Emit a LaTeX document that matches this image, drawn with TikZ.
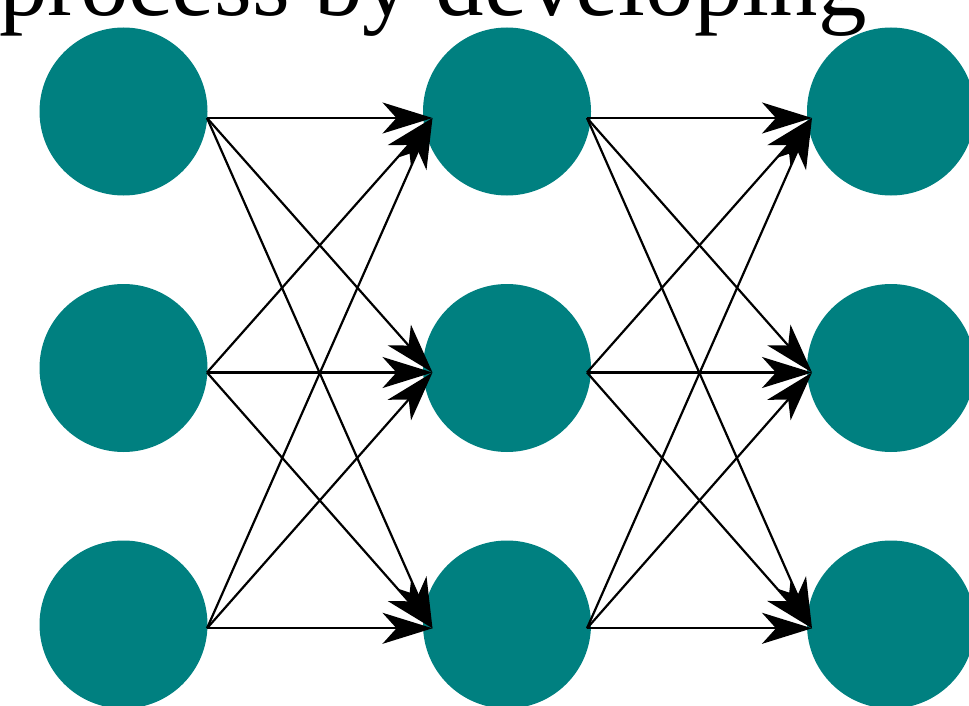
\documentclass[tikz,border=0pt]{standalone}
\usepackage{fontspec}
\setmainfont{Liberation Serif}
\usetikzlibrary{arrows.meta}
\begin{document}
\begin{tikzpicture}[x=1pt,y=-1pt,
  neuron/.style={circle,fill=teal,draw=none,minimum size=168pt,inner sep=0pt},
  conn/.style={line width=2.2pt,black,-{Stealth[length=50pt,width=31pt,inset=14pt]}}]
\useasboundingbox (0,0) rectangle (969,706);
% heading text (cropped at top)
\node[anchor=base west,inner sep=0pt,font=\fontsize{97}{97}\selectfont] (title) at (-1,15.5) {process by developing};
% neurons
\foreach \c/\x in {1/123.5,2/507,3/891}{
  \foreach \r/\y in {1/111.5,2/368,3/624.5}{
    \node[neuron] (n\c\r) at (\x,\y) {};
  }
}
% ports
\foreach \r/\y in {1/118,2/372.5,3/628.3}{
  \coordinate (out1\r) at (207,\y);
  \coordinate (in2\r) at (432.5,\y);
  \coordinate (out2\r) at (587,\y);
  \coordinate (in3\r) at (812,\y);
}
% connections
\foreach \a in {1,2,3}{
  \foreach \b in {1,2,3}{
    \draw[conn] (out1\a) -- (in2\b);
    \draw[conn] (out2\a) -- (in3\b);
  }
}
\end{tikzpicture}
\end{document}
